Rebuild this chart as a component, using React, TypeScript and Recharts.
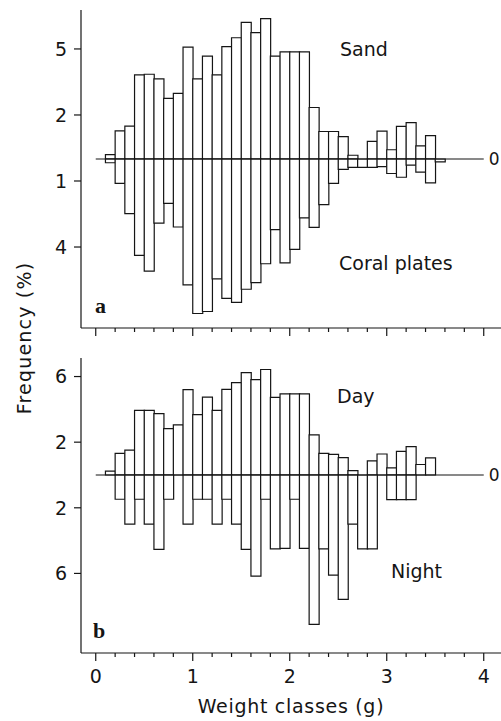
import React from 'react';
import { ComposedChart, Bar, XAxis, YAxis, ReferenceLine } from 'recharts';

// weight classes, 0.1 g wide, given by their centres (g)
const binCenters = [
  0.15, 0.25, 0.35, 0.45, 0.55, 0.65, 0.75, 0.85, 0.95, 1.05, 1.15, 1.25,
  1.35, 1.45, 1.55, 1.65, 1.75, 1.85, 1.95, 2.05, 2.15, 2.25, 2.35, 2.45,
  2.55, 2.65, 2.75, 2.85, 2.95, 3.05, 3.15, 3.25, 3.35, 3.45, 3.55,
];

// panel a: frequency (%) on sand (up) and on coral plates (down)
const sandA = [
  0.2, 1.28, 1.49, 3.82, 3.85, 3.64, 2.75, 2.98, 5.08, 3.64, 4.67, 3.82,
  5.11, 5.51, 6.21, 5.74, 6.38, 4.67, 4.87, 4.87, 4.87, 2.34, 1.25, 1.25,
  1.02, 0.17, 0, 0.8, 1.27, 0.42, 1.48, 1.65, 0.6, 1.06, 0,
];
const coralA = [
  0.17, 1.11, 2.48, 4.38, 5.1, 2.91, 2.02, 3.09, 5.72, 7.02, 6.93, 5.45,
  6.33, 6.52, 5.92, 5.62, 4.76, 3.21, 4.72, 4.11, 2.68, 3.11, 2.07, 1.11,
  0.47, 0.38, 0.38, 0.38, 0.35, 0.66, 0.83, 0.28, 0.6, 1.09, 0.13,
];

// panel b: frequency (%) by day (up) and by night (down)
const dayB = [
  0.24, 1.32, 1.52, 3.94, 3.94, 3.74, 2.83, 3.05, 5.2, 3.68, 4.74, 3.94,
  5.22, 5.63, 6.24, 5.81, 6.43, 4.73, 4.94, 4.94, 4.94, 2.44, 1.32, 1.26,
  1.06, 0.26, 0, 0.86, 1.28, 0.43, 1.44, 1.73, 0.64, 1.04, 0,
];
const nightB = [
  0, 1.48, 3.0, 1.48, 3.0, 4.53, 1.48, 0, 3.0, 1.48, 1.48, 3.0,
  1.48, 3.0, 4.53, 6.16, 1.48, 4.5, 4.47, 1.48, 4.47, 9.1, 4.5, 6.1,
  7.58, 3.0, 4.5, 4.5, 0, 1.5, 1.5, 1.5, 0, 0, 0,
];

const xTicks = [0, 0.2, 0.4, 0.6, 0.8, 1, 1.2, 1.4, 1.6, 1.8, 2, 2.2, 2.4, 2.6, 2.8, 3, 3.2, 3.4, 3.6, 3.8, 4];
const yTicksA = [5, 2, -1, -4];
const yTicksB = [6, 2, -2, -6];

const tableA = binCenters.map((x, i) => ({ x, up: sandA[i], down: -coralA[i] }));
const tableB = binCenters.map((x, i) => ({ x, up: dayB[i], down: -nightB[i] }));

const INK = '#151515';
const FONT = 'DejaVu Sans';
const X_DOMAIN: [number, number] = [-0.152, 4.178];
const TICK_SIZE = 8;
const TICK_MARGIN = 7;

const absFmt = (v: number) => String(Math.abs(v));

const XTick = (props: any) => {
  const { x, y, payload, showLabel } = props;
  const axisY = y - TICK_SIZE - TICK_MARGIN;
  const major = Number.isInteger(payload.value);
  return (
    <g>
      <line x1={x} x2={x} y1={axisY} y2={axisY + (major ? 8 : 4)} stroke={INK} strokeWidth={1.2} />
      {showLabel && major && (
        <text x={x} y={axisY + 30} textAnchor="middle" fill={INK} fontSize={19} fontFamily={FONT}>
          {payload.value}
        </text>
      )}
    </g>
  );
};

const Panel = ({ data, height, xHeight, yDomain, yTicks, showLabels }: any) => (
  <ComposedChart
    width={501}
    height={height}
    data={data}
    margin={{ top: 10, right: 0, bottom: 0, left: 0 }}
    stackOffset="sign"
    barCategoryGap={0}
    barGap={0}
  >
    <XAxis
      dataKey="x"
      type="number"
      domain={X_DOMAIN}
      allowDataOverflow
      ticks={xTicks}
      interval={0}
      height={xHeight}
      tickSize={TICK_SIZE}
      tickMargin={TICK_MARGIN}
      tickLine={false}
      axisLine={{ stroke: INK, strokeWidth: 1.2 }}
      tick={<XTick showLabel={showLabels} />}
      label={
        showLabels
          ? { value: 'Weight classes (g)', position: 'insideBottom', offset: 8, fill: INK, fontSize: 19, fontFamily: FONT, letterSpacing: 0.7 }
          : undefined
      }
    />
    <YAxis
      type="number"
      domain={yDomain}
      allowDataOverflow
      ticks={yTicks}
      interval={0}
      width={81}
      tickSize={7}
      tickMargin={7}
      tickFormatter={absFmt}
      axisLine={{ stroke: INK, strokeWidth: 1.2 }}
      tickLine={{ stroke: INK, strokeWidth: 1.2 }}
      tick={{ fill: INK, fontSize: 19, fontFamily: FONT }}
    />
    <Bar dataKey="up" stackId="s" fill="#fff" stroke={INK} strokeWidth={1.2} isAnimationActive={false} />
    <Bar dataKey="down" stackId="s" fill="#fff" stroke={INK} strokeWidth={1.2} isAnimationActive={false} />
    <ReferenceLine
      segment={[{ x: 0, y: 0 }, { x: 4, y: 0 }]}
      stroke={INK}
      strokeWidth={1.2}
      label={{ value: '0', position: 'right', offset: 5, fill: INK, fontSize: 17, fontFamily: FONT }}
    />
  </ComposedChart>
);

export default function App() {
  const txt = { fill: INK, fontSize: 19, fontFamily: FONT };
  const tag = { fill: INK, fontSize: 22, fontFamily: 'Liberation Serif', fontWeight: 700 };
  return (
    <div style={{ position: 'absolute', left: 0, top: 0, width: 501, height: 721, background: '#fff' }}>
      <Panel data={tableA} height={348} xHeight={20} yDomain={[-7.68, 6.77]} yTicks={yTicksA} showLabels={false} />
      <Panel data={tableB} height={373} xHeight={68} yDomain={[-10.85, 7.13]} yTicks={yTicksB} showLabels />
      <svg width={501} height={721} style={{ position: 'absolute', left: 0, top: 0, pointerEvents: 'none' }}>
        <text x={31} y={338} transform="rotate(-90 31 338)" textAnchor="middle" letterSpacing={1.2} {...txt}>
          Frequency (%)
        </text>
        <text x={340} y={56} {...txt}>Sand</text>
        <text x={339} y={270} {...txt}>Coral plates</text>
        <text x={95} y={313} {...tag}>a</text>
        <text x={337} y={403} {...txt}>Day</text>
        <text x={391} y={578} {...txt}>Night</text>
        <text x={93} y={638} {...tag}>b</text>
      </svg>
    </div>
  );
}
